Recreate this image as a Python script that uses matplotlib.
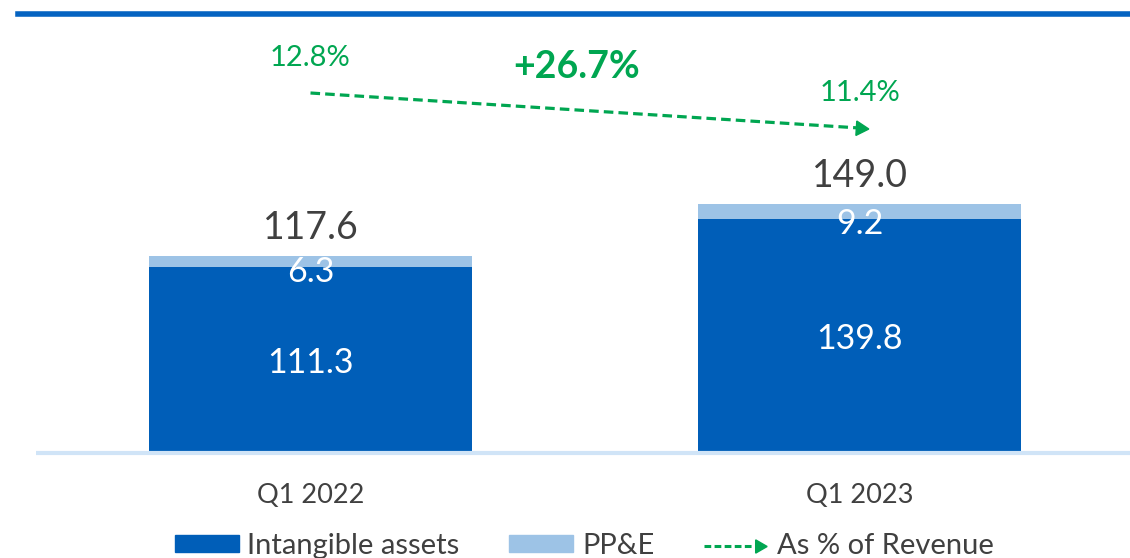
import matplotlib.pyplot as plt
from matplotlib.legend_handler import HandlerBase
from matplotlib.lines import Line2D
from matplotlib.patches import Patch

plt.rcParams["font.family"] = ["Lato", "DejaVu Sans"]

# --- data ---
quarters = ["Q1 2022", "Q1 2023"]
intangible = [111.3, 139.8]
ppe = [6.3, 9.2]
totals = [117.6, 149.0]
pct_revenue = [12.8, 11.4]

DARK = "#005EB8"
LIGHT = "#9DC3E6"
GREEN = "#00A651"
GREY = "#404040"


class ArrowHandler(HandlerBase):
    """dashed line with a triangle head, for the legend"""
    def create_artists(self, legend, orig, xd, yd, w, h, fontsize, trans):
        y = yd + h / 2
        line = Line2D([xd, xd + w * 0.78], [y, y], color=GREEN, lw=2.2,
                      dashes=(2.2, 1.1), transform=trans)
        head = Line2D([xd + w * 0.86], [y], marker=(3, 0, -90), ms=11,
                      color=GREEN, lw=0, transform=trans)
        return [line, head]


fig = plt.figure(figsize=(11.3, 5.58), dpi=100)
ax = fig.add_axes([0, 105 / 558, 1, 453 / 558])
px_per_unit = 1.671
ax.set_xlim(-310.5 / 549, (1130 - 310.5) / 549)
ax.set_ylim(0, 453 / px_per_unit)

x = range(len(quarters))
width = 323 / 549
ax.bar(x, intangible, width, color=DARK, zorder=2)
ax.bar(x, ppe, width, bottom=intangible, color=LIGHT, zorder=2)

for i in x:
    ax.text(i, intangible[i] / 2 - 1.5, f"{intangible[i]:.1f}", ha="center", va="center",
            color="white", fontsize=24.5)
    ax.text(i, intangible[i] - 3, f"{ppe[i]:.1f}", ha="center", va="center",
            color="white", fontsize=24.5)
    ax.text(i, totals[i] + 6, f"{totals[i]:.1f}", ha="center", va="bottom",
            color=GREY, fontsize=27)
    ax.text(i, -0.093, quarters[i], transform=ax.get_xaxis_transform(),
            ha="center", va="center", color=GREY, fontsize=19.5)

# baseline
ax.plot([(36 - 310.5) / 549, 1.6], [0, 0], color="#D0E4F7", lw=3,
        solid_capstyle="butt", zorder=3, clip_on=False)

for s in ax.spines.values():
    s.set_visible(False)
ax.set_xticks([])
ax.set_yticks([])

# percent of revenue on its own scale
ax2 = ax.twinx()
ax2.set_ylim(12.8 - 360 / 25, 12.8 + 93 / 25)
ax2.axis("off")
ax2.plot(x, pct_revenue, color=GREEN, lw=2.3, dashes=(3, 1.6))
ax2.plot([x[-1]], [pct_revenue[-1]], marker=(3, 0, -93.6), ms=12,
         color=GREEN, lw=0)
for i in x:
    ax2.annotate(f"{pct_revenue[i]:.1f}%", (i, pct_revenue[i]),
                 xytext=(0, 25), textcoords="offset points",
                 ha="center", va="center", color=GREEN, fontsize=21)

growth = (totals[1] / totals[0] - 1) * 100
ax.text(0.485, (453 - 67) / 453, f"+{growth:.1f}%", transform=ax.get_xaxis_transform(),
        ha="center", va="center", color=GREEN, fontsize=27, fontweight="bold")

# blue rule along the top
fig.add_artist(Line2D([18 / 1130, 1], [1 - 14 / 558] * 2, color="#0563C1", lw=4,
                      transform=fig.transFigure))

handles = [Patch(color=DARK), Patch(color=LIGHT), Line2D([], [])]
labels = ["Intangible assets", "PP&E", "As % of Revenue"]
fig.legend(handles, labels, loc="center", bbox_to_anchor=(0.517, 0.022),
           ncol=3, frameon=False, fontsize=21, labelcolor=GREY,
           handlelength=2.2, handleheight=0.55, handletextpad=0.3,
           columnspacing=1.7, handler_map={handles[2]: ArrowHandler()})

fig.savefig("out.png", dpi=100)
